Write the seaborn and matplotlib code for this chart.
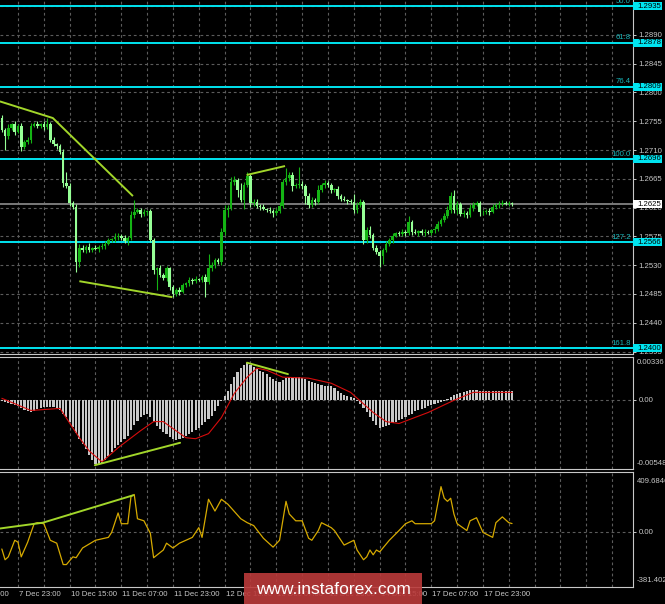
import numpy as np
import pandas as pd
import matplotlib.pyplot as plt
import matplotlib.transforms as mtransforms
from matplotlib.patches import Rectangle
import seaborn as sns

# ---- values (H1 bars, index 0 = first visible bar) ----
first_open = 1.2760
closes = [
    1.2741, 1.2732, 1.2744, 1.2751, 1.2738, 1.2748, 1.2715, 1.2723, 1.2726, 1.2748,
    1.2751, 1.2748, 1.2751, 1.2746, 1.2751, 1.2726, 1.2719, 1.2716, 1.2707, 1.2658,
    1.2654, 1.2627, 1.2621, 1.2535, 1.2557, 1.2554, 1.2559, 1.2554, 1.2557, 1.2555,
    1.2559, 1.2560, 1.2563, 1.2569, 1.2571, 1.2574, 1.2576, 1.2572, 1.2568, 1.2572,
    1.2608, 1.2613, 1.2616, 1.2610, 1.2613, 1.2615, 1.2569, 1.2522, 1.2525, 1.2515,
    1.2510, 1.2525, 1.2496, 1.2485, 1.2491, 1.2488, 1.2499, 1.2502, 1.2507, 1.2505,
    1.2508, 1.2507, 1.2512, 1.2504, 1.2525, 1.2530, 1.2538, 1.2535, 1.2582, 1.2616,
    1.2619, 1.2660, 1.2663, 1.2648, 1.2632, 1.2655, 1.2669, 1.2627, 1.2629, 1.2623,
    1.2621, 1.2618, 1.2616, 1.2615, 1.2611, 1.2615, 1.2623, 1.2660, 1.2666, 1.2671,
    1.2654, 1.2655, 1.2657, 1.2654, 1.2638, 1.2624, 1.2632, 1.2629, 1.2648, 1.2655,
    1.2658, 1.2655, 1.2648, 1.2649, 1.2638, 1.2634, 1.2632, 1.2630, 1.2629, 1.2616,
    1.2624, 1.2629, 1.2569, 1.2585, 1.2577, 1.2557, 1.2551, 1.2544, 1.2554, 1.2563,
    1.2569, 1.2576, 1.2580, 1.2579, 1.2582, 1.2580, 1.2597, 1.2582, 1.2580, 1.2583,
    1.2580, 1.2582, 1.2580, 1.2585, 1.2587, 1.2594, 1.2601, 1.2607, 1.2616, 1.2638,
    1.2616, 1.2626, 1.2610, 1.2611, 1.2608, 1.2619, 1.2624, 1.2627, 1.2613, 1.2613,
    1.2615, 1.2613, 1.2621, 1.2624, 1.2626, 1.2627, 1.2626, 1.2627, 1.2625,
]
# wick lengths in pips
wick_up = [
    4, 3, 6, 2, 5, 3, 4, 2, 5, 4, 3, 5, 2, 4, 9, 3, 4, 2, 3, 5,
    17, 4, 3, 5, 6, 4, 3, 5, 2, 4, 3, 4, 5, 3, 2, 6, 4, 3, 5, 4,
    6, 19, 4, 3, 5, 2, 3, 4, 2, 5, 3, 4, 2, 3, 4, 5, 3, 2, 4, 3,
    5, 2, 3, 4, 23, 5, 3, 4, 6, 8, 5, 8, 6, 4, 10, 5, 6, 3, 4, 5,
    3, 4, 2, 5, 3, 4, 6, 5, 16, 4, 5, 3, 27, 4, 3, 5, 4, 3, 8, 4,
    5, 3, 4, 2, 5, 3, 4, 2, 3, 12, 4, 5, 3, 4, 6, 3, 4, 2, 3, 5,
    3, 4, 2, 3, 4, 3, 10, 3, 4, 2, 3, 4, 3, 2, 4, 5, 3, 4, 6, 6,
    10, 4, 3, 5, 4, 6, 5, 4, 3, 4, 3, 4, 5, 3, 4, 5, 4, 3, 2,
]
wick_dn = [
    3, 22, 4, 3, 5, 2, 6, 4, 3, 5, 2, 4, 3, 5, 3, 4, 2, 5, 3, 6,
    4, 5, 3, 16, 8, 4, 5, 3, 4, 2, 5, 3, 4, 2, 3, 4, 5, 3, 4, 6,
    3, 4, 2, 5, 3, 4, 3, 5, 31, 4, 3, 5, 4, 5, 3, 4, 2, 3, 4, 5,
    3, 2, 4, 23, 3, 4, 5, 3, 4, 5, 10, 3, 4, 12, 4, 14, 3, 6, 4, 3,
    4, 2, 3, 4, 5, 3, 4, 3, 4, 5, 8, 3, 4, 5, 12, 4, 3, 5, 4, 3,
    4, 2, 5, 3, 4, 3, 2, 4, 3, 5, 4, 3, 6, 4, 5, 3, 4, 17, 12, 4,
    3, 5, 2, 4, 3, 4, 3, 5, 2, 4, 3, 4, 2, 3, 5, 4, 3, 4, 3, 5,
    4, 6, 3, 4, 5, 3, 4, 2, 6, 4, 3, 4, 2, 3, 4, 3, 2, 4, 3,
]

macd_hist = [
    -0.00014, -0.00022, -0.00030, -0.00038, -0.00046, -0.00054, -0.00070, -0.00086, -0.00094, -0.00102,
    -0.00094, -0.00078, -0.00070, -0.00062, -0.00062, -0.00062, -0.00062, -0.00070, -0.00086, -0.00110,
    -0.00134, -0.00174, -0.00213, -0.00261, -0.00309, -0.00349, -0.00388, -0.00436, -0.00476, -0.00508,
    -0.00516, -0.00500, -0.00476, -0.00444, -0.00412, -0.00380, -0.00357, -0.00333, -0.00309, -0.00285,
    -0.00237, -0.00197, -0.00166, -0.00134, -0.00118, -0.00110, -0.00134, -0.00174, -0.00205, -0.00229,
    -0.00253, -0.00269, -0.00293, -0.00309, -0.00317, -0.00309, -0.00301, -0.00285, -0.00269, -0.00253,
    -0.00237, -0.00221, -0.00197, -0.00174, -0.00150, -0.00126, -0.00094, -0.00054, -0.00014, 0.00025,
    0.00065, 0.00121, 0.00177, 0.00217, 0.00248, 0.00272, 0.00288, 0.00272, 0.00256, 0.00240,
    0.00224, 0.00217, 0.00201, 0.00177, 0.00161, 0.00145, 0.00137, 0.00153, 0.00169, 0.00177,
    0.00177, 0.00177, 0.00177, 0.00169, 0.00161, 0.00145, 0.00137, 0.00129, 0.00121, 0.00113,
    0.00105, 0.00105, 0.00105, 0.00089, 0.00065, 0.00049, 0.00033, 0.00025, 0.00018, 0.00010,
    -0.00014, -0.00038, -0.00070, -0.00102, -0.00134, -0.00166, -0.00197, -0.00221, -0.00213, -0.00205,
    -0.00197, -0.00181, -0.00174, -0.00158, -0.00150, -0.00134, -0.00118, -0.00110, -0.00094, -0.00086,
    -0.00078, -0.00070, -0.00054, -0.00046, -0.00038, -0.00030, -0.00022, -0.00014, 0.00002, 0.00018,
    0.00033, 0.00041, 0.00049, 0.00057, 0.00065, 0.00073, 0.00073, 0.00073, 0.00065, 0.00065,
    0.00065, 0.00065, 0.00065, 0.00065, 0.00065, 0.00065, 0.00065, 0.00065, 0.00065,
]
signal_idx = [0, 9, 18, 24, 27, 31, 36, 43, 47, 50, 53, 57, 60, 64, 68,
              72, 76, 79, 82, 87, 95, 102, 108, 115, 119, 123, 132, 140, 146, 158]
signal_val = [0.00010, -0.00086, -0.00070, -0.00301, -0.00404, -0.00492, -0.00380, -0.00245,
              -0.00174, -0.00174, -0.00229, -0.00301, -0.00309, -0.00269, -0.00142, 0.00049,
              0.00177, 0.00248, 0.00232, 0.00177, 0.00169, 0.00129, 0.00057, -0.00102,
              -0.00174, -0.00189, -0.00102, -0.00006, 0.00057, 0.00057]

cci_idx = [0, 1, 2, 4, 5, 6, 8, 10, 11, 13, 15, 17, 19, 20, 22, 23, 25, 29, 33, 34,
           36, 37, 39, 40, 41, 42, 44, 46, 47, 50, 51, 53, 55, 59, 61, 62, 64, 66, 68, 70,
           74, 76, 78, 81, 84, 86, 88, 89, 91, 93, 95, 96, 98, 99, 102, 103, 106, 109, 110, 112,
           113, 114, 115, 116, 117, 120, 123, 125, 127, 128, 133, 134, 136, 137, 138, 139, 140, 141, 144, 145,
           147, 149, 152, 153, 155, 157, 158]
cci_val = [-120, -194, -174, -60, -73, -174, -73, 54, 61, 54, -60, -80, -227, -227, -174, -180, -113, -60, -40, -6,
           128, 54, 54, 242, 255, 88, 74, -13, -180, -127, -80, -113, -80, -40, 27, -40, 222, 141, 222, 188,
           88, 61, 41, -46, -107, -60, 208, 121, 74, 74, -46, -60, 7, 61, 27, 7, -93, -60, -127, -194,
           -174, -127, -160, -127, -140, -60, 7, 54, 74, 54, 54, 74, 309, 229, 208, 229, 121, 54, 7, 74,
           95, -6, -40, 61, 101, 61, 55]

fib_levels = [1.2935, 1.2878, 1.2809, 1.2696, 1.2566, 1.2400]
fib_names = ['50.0', '61.8', '76.4', '100.0', '127.2', '161.8']
last_price = 1.2625
price_ticks = [1.2395, 1.2440, 1.2485, 1.2530, 1.2575, 1.2620, 1.2665,
               1.2710, 1.2755, 1.2800, 1.2845, 1.2890, 1.2935]

date_idx = [-11, 5, 21, 37, 53, 69, 85, 101, 117, 133, 149]
date_labels = ['7 Dec 07:00', '7 Dec 23:00', '10 Dec 15:00', '11 Dec 07:00', '11 Dec 23:00',
               '12 Dec 15:00', '13 Dec 07:00', '13 Dec 23:00', '14 Dec 15:00',
               '17 Dec 07:00', '17 Dec 23:00']

# hand drawn trend lines (bar index, value)
price_lines = [([-0.6, 15.8, 40.6], [1.2786, 1.2760, 1.2638]),
               ([24.0, 52.8], [1.2505, 1.2480]),
               ([75.8, 87.7], [1.2671, 1.2685])]
macd_lines = [([28.8, 55.2], [-0.00518, -0.00341]),
              ([75.9, 88.6], [0.00291, 0.00201])]
cci_lines = [([-0.6, 12.7, 40.6], [21, 61, 249])]

BG = 'black'
TXT = '#c8c8c8'
GRID = '#5c5c5c'
FIB = '#00e4f0'
TREND = '#a2d62a'
FS = 5.6

sns.set_style('dark', {'axes.facecolor': BG, 'figure.facecolor': BG, 'axes.edgecolor': TXT})
plt.rcParams['font.family'] = ['Liberation Sans', 'DejaVu Sans']

W, H = 665, 604
fig = plt.figure(figsize=(W / 100, H / 100), dpi=100)


def px_axes(top, bottom):
    return fig.add_axes([0, 1 - bottom / H, 633 / W, (bottom - top) / H])


ax_p = px_axes(0, 354)
ax_m = px_axes(357, 469)
ax_c = px_axes(472, 587)

XMIN, XMAX = -0.57, 195.46
grid_x = np.arange(5, 196, 8)
for ax in (ax_p, ax_m, ax_c):
    ax.set_xticks(grid_x)
    ax.tick_params(axis='x', length=0, labelbottom=False)
    ax.yaxis.tick_right()
    ax.tick_params(axis='y', colors=TXT, labelsize=FS, length=2.5, width=0.7, pad=1.5)
    ax.grid(True, color=GRID, lw=0.8, ls=(0, (2.5, 2.5)))
    ax.spines['left'].set_visible(False)
    for s in ('right', 'top', 'bottom'):
        ax.spines[s].set_color(TXT)
        ax.spines[s].set_linewidth(0.8)
ax_p.spines['top'].set_visible(False)


def tag(ax, y, label, fc, half):
    tr = mtransforms.blended_transform_factory(ax.transAxes, ax.transData)
    ax.add_patch(Rectangle((1.0, y - half), 29 / 633, 2 * half, transform=tr,
                           fc=fc, ec='none', clip_on=False, zorder=7))
    ax.text(1.0 + 4 / 633, y, label, transform=tr, color='black', fontsize=FS,
            ha='left', va='center', clip_on=False, zorder=8)


# ---- price window ----
n = len(closes)
bars = pd.DataFrame({'i': np.arange(n), 'close': closes})
bars['open'] = [first_open] + closes[:-1]
top = bars[['open', 'close']].max(axis=1)
bot = bars[['open', 'close']].min(axis=1)
bars['high'] = top + np.array(wick_up) * 0.0001
bars['low'] = bot - np.array(wick_dn) * 0.0001
col = np.where(bars['close'] >= bars['open'], '#14b414', '#96ff96')

ax_p.vlines(bars['i'], bars['low'], bars['high'], colors=col, lw=0.8, zorder=3)
ax_p.bar(bars['i'], (top - bot).clip(lower=0.00005), bottom=bot, width=0.8,
         color=col, lw=0, zorder=4)

for lvl, name in zip(fib_levels, fib_names):
    ax_p.axhline(lvl, color=FIB, lw=1.4, zorder=2)
    ax_p.text(XMAX - 0.6, lvl + 0.00022, name, color='#18b4b8', fontsize=FS,
              ha='right', va='bottom', zorder=6)
    tag(ax_p, lvl, f'{lvl:.4f}', FIB, 0.00062)
ax_p.axhline(last_price, color='#7a7a7a', lw=1.4, zorder=2.5)
tag(ax_p, last_price, f'{last_price:.4f}', 'white', 0.00062)

for xs, ys in price_lines:
    ax_p.plot(xs, ys, color=TREND, lw=1.4, zorder=5, solid_capstyle='butt')

ax_p.set_yticks(price_ticks)
ax_p.set_yticklabels([f'{v:.4f}' for v in price_ticks])
ax_p.set_xlim(XMIN, XMAX)
ax_p.set_ylim(1.23912, 1.29445)

# ---- MACD window ----
ax_m.bar(np.arange(n), macd_hist, width=0.66, color='#c8c8c8', lw=0, zorder=3)
sns.lineplot(x=signal_idx, y=signal_val, ax=ax_m, color='#d80c0c', lw=0.8, zorder=4)
for xs, ys in macd_lines:
    ax_m.plot(xs, ys, color=TREND, lw=1.4, zorder=5)
ax_m.set_yticks([0])
ax_m.set_yticklabels(['0.00'])
ax_m.set_xlabel('')
ax_m.set_ylabel('')
ax_m.set_xlim(XMIN, XMAX)
ax_m.set_ylim(-0.00548, 0.00336)
ax_m.text(1.0 + 4 / 633, 1 - 2.5 / 112, '0.00336', transform=ax_m.transAxes, color=TXT,
          fontsize=FS, ha='left', va='top', clip_on=False)
ax_m.text(1.0 + 4 / 633, 2 / 112, '-0.00548', transform=ax_m.transAxes, color=TXT,
          fontsize=FS, ha='left', va='bottom', clip_on=False)

# ---- CCI window ----
sns.lineplot(x=cci_idx, y=cci_val, ax=ax_c, color='#d6aa00', lw=0.9, zorder=4)
for xs, ys in cci_lines:
    ax_c.plot(xs, ys, color=TREND, lw=1.4, zorder=5)
ax_c.set_yticks([0])
ax_c.set_yticklabels(['0.00'])
ax_c.set_xlabel('')
ax_c.set_ylabel('')
ax_c.text(1.0 + 4 / 633, 1 - 6 / 115, '409.6846', transform=ax_c.transAxes, color=TXT,
          fontsize=FS, ha='left', va='top', clip_on=False)
ax_c.text(1.0 + 4 / 633, 3 / 115, '-381.4020', transform=ax_c.transAxes, color=TXT,
          fontsize=FS, ha='left', va='bottom', clip_on=False)

# date labels under the last window (ticks first, limits after: set_xticks widens the view)
ax_c.set_xticks(date_idx, minor=True)
ax_c.tick_params(axis='x', which='minor', bottom=True, length=2.5, width=0.7, color=TXT)
ax_c.set_xlim(XMIN, XMAX)
ax_c.set_ylim(-381.402, 409.6846)
trx = mtransforms.blended_transform_factory(ax_c.transData, ax_c.transAxes)
for i, lab in zip(date_idx, date_labels):
    ax_c.text(i + 0.3, -8 / 115, lab, transform=trx, color=TXT, fontsize=FS,
              ha='left', va='center', clip_on=False)

# watermark
fig.add_artist(Rectangle((244 / W, 0), 178 / W, 31 / H, transform=fig.transFigure,
                         fc='#bb3a3a', ec='none', alpha=0.9, zorder=10))
fig.text(333 / W, 15 / H, 'www.instaforex.com', color='white', fontsize=12.5,
         ha='center', va='center', zorder=11)

fig.savefig('out.png', dpi=100, facecolor=BG)
